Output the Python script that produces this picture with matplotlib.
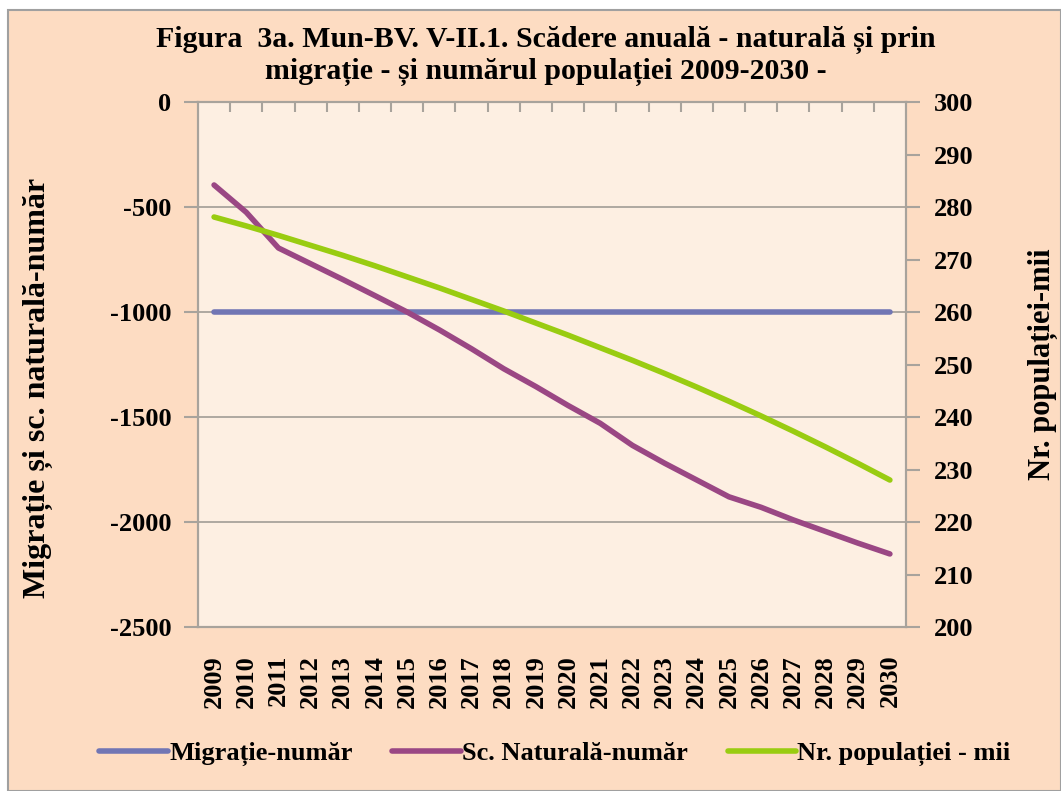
import matplotlib.pyplot as plt
from matplotlib.ticker import MultipleLocator, FixedLocator
from matplotlib.patches import Rectangle

# data
years = list(range(2009, 2031))
migratie = [-1000] * 22
sc_naturala = [-395, -525, -695, -770, -845, -922, -1000, -1085, -1175, -1270, -1355,
               -1445, -1530, -1635, -1720, -1800, -1880, -1930, -1990, -2045, -2100, -2152]
populatie = [278.1, 276.4, 274.6, 272.7, 270.8, 268.8, 266.7, 264.6, 262.4, 260.2, 257.9,
             255.6, 253.2, 250.8, 248.3, 245.7, 243.0, 240.2, 237.3, 234.3, 231.2, 228.0]

bg_outer = '#FDDCC2'
bg_plot = '#FDEFE2'
grid_c = '#A8A39C'
font = 'Liberation Serif'

plt.rcParams['font.family'] = [font, 'DejaVu Serif']
plt.rcParams['font.weight'] = 'bold'
plt.rcParams['axes.unicode_minus'] = False

fig = plt.figure(figsize=(10.61, 7.91), dpi=100, facecolor='white')
fig.patches.append(Rectangle((0.008, 0), 0.992, 0.987, transform=fig.transFigure,
                             facecolor=bg_outer, edgecolor='#A0A0A0', lw=1.5, zorder=-1))

ax = fig.add_axes([0.1866, 0.2073, 0.6673, 0.6637])
ax.set_facecolor(bg_plot)
x = list(range(len(years)))

l1, = ax.plot(x, migratie, color='#7176B4', lw=4, label='Migrație-număr', solid_capstyle='round')
l2, = ax.plot(x, sc_naturala, color='#9A4784', lw=4, label='Sc. Naturală-număr', solid_capstyle='round')
ax.set_ylim(-2500, 0)
ax.set_xlim(-0.5, len(years) - 0.5)
ax.yaxis.set_major_locator(MultipleLocator(500))
ax.grid(axis='y', color=grid_c, lw=1.3)
ax.set_axisbelow(True)

ax2 = ax.twinx()
l3, = ax2.plot(x, populatie, color='#99CC11', lw=4, label='Nr. populației - mii', solid_capstyle='round')
ax2.set_ylim(200, 300)
ax2.yaxis.set_major_locator(MultipleLocator(10))

for a in (ax, ax2):
    for s in a.spines.values():
        s.set_color(grid_c)
        s.set_linewidth(1.5)

ax.set_xticks(x)
ax.set_xticklabels([str(y) for y in years], rotation=90, fontsize=19, fontweight='bold')
ax.xaxis.set_minor_locator(FixedLocator([i + 0.5 for i in range(len(years) - 1)]))
ax.tick_params(axis='x', which='major', length=0, pad=20)
ax.tick_params(axis='x', which='minor', top=True, bottom=False, direction='in',
               length=7, color=grid_c, width=1.5)
ax.tick_params(axis='y', length=10, color=grid_c, width=1.5, labelsize=19, pad=9)
ax2.tick_params(axis='y', length=10, color=grid_c, width=1.5, labelsize=19, pad=10)
for lab in ax.get_yticklabels() + ax2.get_yticklabels():
    lab.set_fontweight('bold')

ax.set_ylabel('Migrație și sc. naturală-număr', fontsize=23, fontweight='bold', labelpad=36)
ax.yaxis.set_label_coords(-0.205, 0.455)
ax2.set_ylabel('Nr. populației-mii', fontsize=22, fontweight='bold', labelpad=39)

fig.text(0.514, 0.929, 'Figura  3a. Mun-BV. V-II.1. Scădere anuală - naturală și prin\n'
         'migrație - și numărul populației 2009-2030 -',
         ha='center', va='center', fontsize=21.5, fontweight='bold', linespacing=1.2)

fig.legend(handles=[l1, l2, l3], loc='center', bbox_to_anchor=(0.523, 0.047), ncol=3,
           frameon=False, fontsize=19, handlelength=2.6, handletextpad=0.05, columnspacing=1.5)

fig.savefig('out.png', dpi=100, facecolor=fig.get_facecolor())
